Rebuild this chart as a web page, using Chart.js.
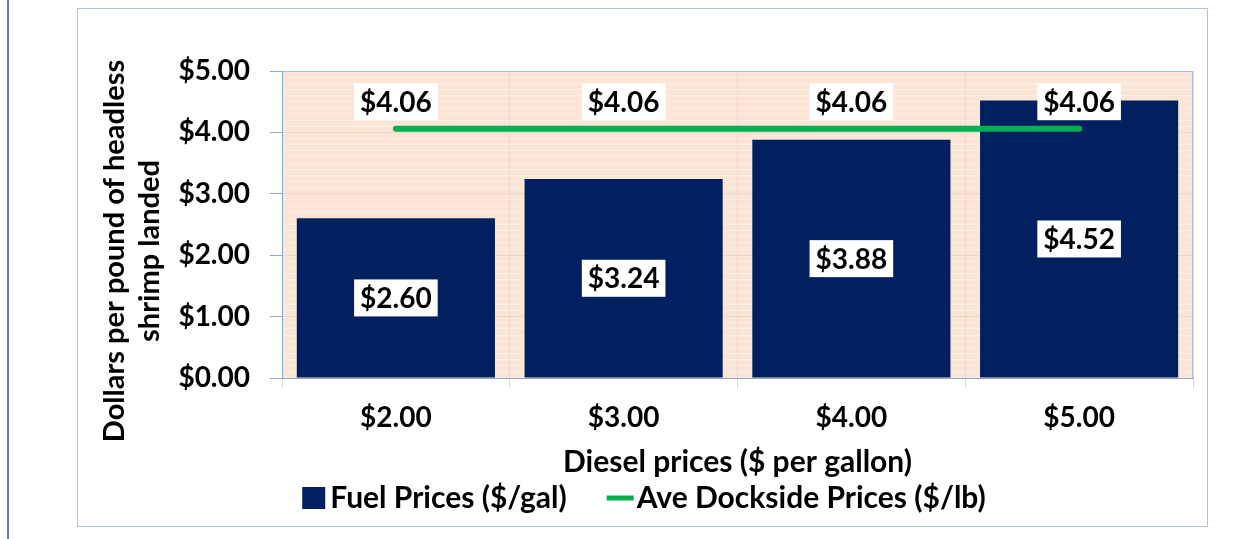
<!DOCTYPE html>
<html>
<head>
<meta charset="utf-8">
<script src="https://cdn.jsdelivr.net/npm/chart.js@4.4.1/dist/chart.umd.min.js"></script>
<style>
  html, body { margin: 0; padding: 0; background: #fff; width: 1255px; height: 539px; overflow: hidden; }
  #edge { position: absolute; left: 7px; top: 0; width: 2px; height: 539px; background: #5a7cc4; }
  #frame { position: absolute; left: 77px; top: 8px; width: 1131px; height: 519px; box-sizing: border-box; border: 1px solid #b3c2e2; }
  #frame canvas { display: block; }
</style>
</head>
<body>
<div id="edge"></div>
<div id="frame"><canvas id="chart" width="1129" height="517"></canvas></div>
<script>
const categories = ['$2.00', '$3.00', '$4.00', '$5.00'];
const fuelPrices = [2.60, 3.24, 3.88, 4.52];
const docksidePrices = [4.06, 4.06, 4.06, 4.06];
const yTickLabels = ['$0.00', '$1.00', '$2.00', '$3.00', '$4.00', '$5.00'];
const yTitle = ['Dollars per pound of headless', 'shrimp landed'];

const FONT = 'Lato, "Open Sans", sans-serif';
const fmt = v => '$' + v.toFixed(2);
const isMajor = v => Math.abs(v - Math.round(v)) < 1e-6;

// plot background, y title, white label boxes and legend
const decor = {
  id: 'decor',
  beforeDraw(chart) {
    const { ctx, chartArea: a } = chart;
    ctx.save();
    ctx.fillStyle = '#fbe5d6';
    ctx.fillRect(a.left, a.top, a.right - a.left, a.bottom - a.top);
    ctx.restore();
  },
  afterDraw(chart) {
    const { ctx, chartArea: a } = chart;
    ctx.save();
    ctx.strokeStyle = '#a9bbe0';
    ctx.lineWidth = 1;
    ctx.beginPath();
    ctx.moveTo(a.left, a.top + 0.5);
    ctx.lineTo(a.right - 0.5, a.top + 0.5);
    ctx.lineTo(a.right - 0.5, a.bottom);
    ctx.stroke();

    // y axis title, sits a bit lower than the plot centre
    ctx.save();
    ctx.translate(37, 242);
    ctx.rotate(-Math.PI / 2);
    ctx.font = 'bold 29px ' + FONT;
    ctx.fillStyle = '#000';
    ctx.textAlign = 'center';
    ctx.textBaseline = 'middle';
    yTitle.forEach((line, i) => ctx.fillText(line, 0, i * 35));
    ctx.restore();

    ctx.font = 'bold 28px ' + FONT;
    ctx.textAlign = 'center';
    ctx.textBaseline = 'middle';
    const box = (text, cx, cy) => {
      const w = ctx.measureText(text).width + 12;
      const h = 37;
      ctx.fillStyle = '#ffffff';
      ctx.fillRect(cx - w / 2, cy - h / 2, w, h);
      ctx.fillStyle = '#000000';
      ctx.fillText(text, cx, cy + 1);
    };
    chart.getDatasetMeta(0).data.forEach((el, i) => {
      box(fmt(fuelPrices[i]), el.x, (el.y + el.base) / 2);
    });
    chart.getDatasetMeta(1).data.forEach((el, i) => {
      box(fmt(docksidePrices[i]), el.x, el.y - 27);
    });

    // legend
    const t1 = 'Fuel Prices ($/gal)';
    const t2 = 'Ave Dockside Prices ($/lb)';
    ctx.font = 'bold 30px ' + FONT;
    const w1 = ctx.measureText(t1).width;
    const w2 = ctx.measureText(t2).width;
    const total = 23 + 5 + w1 + 40 + 27 + 3 + w2;
    let x = 566 - total / 2;
    const y = 489;
    ctx.fillStyle = '#002060';
    ctx.fillRect(x, y - 11, 23, 22);
    x += 28;
    ctx.fillStyle = '#000';
    ctx.textAlign = 'left';
    ctx.fillText(t1, x, y);
    x += w1 + 40;
    ctx.strokeStyle = '#00b050';
    ctx.lineWidth = 5;
    ctx.beginPath();
    ctx.moveTo(x, y);
    ctx.lineTo(x + 27, y);
    ctx.stroke();
    x += 30;
    ctx.fillText(t2, x, y);
    ctx.restore();
  }
};

new Chart(document.getElementById('chart'), {
  type: 'bar',
  data: {
    labels: categories,
    datasets: [
      {
        label: 'Fuel Prices ($/gal)',
        data: fuelPrices,
        backgroundColor: '#002060',
        categoryPercentage: 1,
        barPercentage: 0.87,
        order: 2
      },
      {
        type: 'line',
        label: 'Ave Dockside Prices ($/lb)',
        data: docksidePrices,
        borderColor: '#00b050',
        borderWidth: 6,
        borderCapStyle: 'round',
        pointRadius: 0,
        order: 1
      }
    ]
  },
  options: {
    responsive: false,
    animation: false,
    layout: { padding: { left: 0, top: 62, right: 14, bottom: 43 } },
    plugins: { legend: { display: false }, tooltip: { enabled: false } },
    scales: {
      x: {
        offset: true,
        grid: { offset: true, color: '#eed9cb', tickLength: 10, tickColor: '#d9d9d9' },
        border: { color: '#8fa6d2' },
        ticks: { color: '#000', font: { family: FONT, size: 28, weight: 'bold' }, padding: 13 },
        title: {
          display: true,
          text: 'Diesel prices ($ per gallon)',
          color: '#000',
          font: { family: FONT, size: 30, weight: 'bold', lineHeight: 1.2 },
          padding: { top: 0, bottom: 3 }
        },
        afterFit(scale) { scale.height = 105; }
      },
      y: {
        min: 0,
        max: 5,
        ticks: {
          stepSize: 0.1,
          autoSkip: false,
          color: '#000',
          padding: 20,
          font: { family: FONT, size: 28, weight: 'bold' },
          callback: v => isMajor(v) ? yTickLabels[Math.round(v)] : ''
        },
        grid: {
          tickLength: 12,
          color: ctx => isMajor(ctx.tick.value) ? '#f0d6c4' : 'rgba(255,255,255,0.35)',
          tickColor: ctx => isMajor(ctx.tick.value) ? '#8fa6d2' : 'rgba(0,0,0,0)'
        },
        border: { color: '#8fa6d2' },
        afterFit(scale) { scale.width = 204; }
      }
    }
  },
  plugins: [decor]
});
</script>
</body>
</html>
